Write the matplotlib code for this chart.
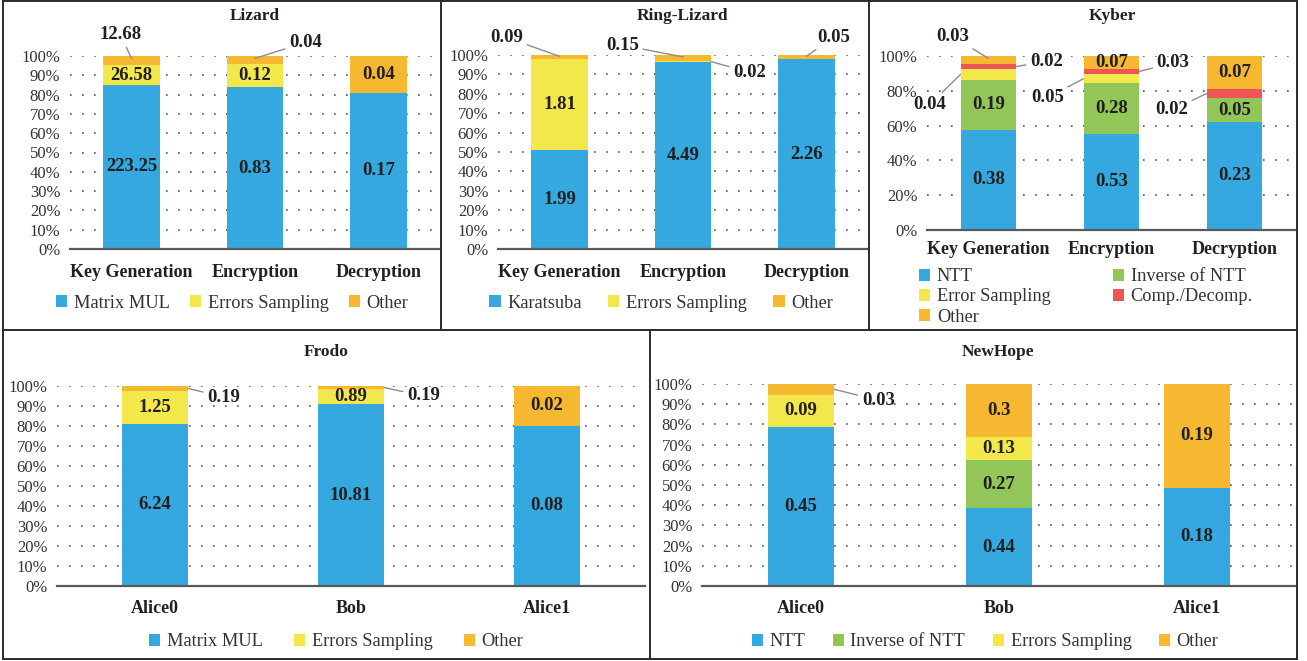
import numpy as np
import matplotlib.pyplot as plt
from matplotlib.patches import Patch
from matplotlib.lines import Line2D
from matplotlib.ticker import PercentFormatter

plt.rcParams["font.family"] = ["Liberation Serif", "DejaVu Serif"]

W, H = 1307, 661

# ---- data -------------------------------------------------------------
ops = ["Key Generation", "Encryption", "Decryption"]
roles = ["Alice0", "Bob", "Alice1"]

lizard_matmul = [223.25, 0.83, 0.17]
lizard_errors = [26.58, 0.12, 0.0]
lizard_other = [12.68, 0.04, 0.04]

ring_karatsuba = [1.99, 4.49, 2.26]
ring_errors = [1.81, 0.02, 0.0]
ring_other = [0.09, 0.15, 0.05]

kyber_ntt = [0.38, 0.53, 0.23]
kyber_invntt = [0.19, 0.28, 0.05]
kyber_errors = [0.04, 0.05, 0.0]
kyber_comp = [0.02, 0.03, 0.02]
kyber_other = [0.03, 0.07, 0.07]

frodo_matmul = [6.24, 10.81, 0.08]
frodo_errors = [1.25, 0.89, 0.0]
frodo_other = [0.19, 0.19, 0.02]

newhope_ntt = [0.45, 0.44, 0.18]
newhope_invntt = [0.0, 0.27, 0.0]
newhope_errors = [0.09, 0.13, 0.0]
newhope_other = [0.03, 0.3, 0.19]

BLUE, YELLOW, ORANGE = "#34A8DF", "#F2E84B", "#F5B830"
GREEN, RED = "#92C659", "#EE5656"
TXT = "#231F20"


def px_axes(fig, x0, x1, ytop, ybot):
    return fig.add_axes([x0 / W, 1 - ybot / H, (x1 - x0) / W, (ybot - ytop) / H])


def stacked(ax, cats, series, width, callouts, step, cat_pad):
    vals = np.array([s[0] for s in series], dtype=float)
    frac = vals / vals.sum(axis=0)
    x = np.arange(len(cats))
    bottom = np.zeros(len(cats))
    for i, (v, c, name) in enumerate(series):
        ax.bar(x, frac[i], width, bottom=bottom, color=c, label=name, zorder=2)
        for j in range(len(cats)):
            if v[j] <= 0:
                continue
            txt = f"{v[j]:g}"
            key = (i, j)
            if key in callouts:
                side, tx, ty = callouts[key]
                ymid = bottom[j] + frac[i, j] / 2
                if side == "top":
                    xy = (x[j], bottom[j] + frac[i, j] * 0.7)
                elif side == "right":
                    xy = (x[j] + width / 2, ymid)
                else:
                    xy = (x[j] - width / 2, ymid)
                ax.annotate(txt, xy=xy, xytext=(tx, ty), ha="center", va="center",
                            fontsize=13.5, fontweight="bold", color=TXT,
                            annotation_clip=False,
                            arrowprops=dict(arrowstyle="-", color="#8C8C8C", lw=1,
                                            shrinkA=1, shrinkB=0))
            else:
                ax.text(x[j], bottom[j] + frac[i, j] / 2, txt, ha="center",
                        va="center", fontsize=13.5, fontweight="bold", color=TXT,
                        zorder=3)
        bottom += frac[i]

    ax.set_xlim(-0.5, len(cats) - 0.5)
    ax.set_ylim(0, 1)
    ax.set_xticks(x)
    ax.set_xticklabels(cats, fontsize=13, fontweight="bold", color=TXT)
    ax.set_yticks(np.arange(0, 1.0001, step))
    ax.yaxis.set_major_formatter(PercentFormatter(1.0, decimals=0))
    ax.tick_params(axis="y", length=0, pad=7, labelsize=12, labelcolor="#333333")
    ax.tick_params(axis="x", length=0, pad=cat_pad)
    ax.grid(axis="y", color="#555555", linestyle=(0, (1, 6.2)), lw=1.2)
    ax.set_axisbelow(True)
    for s in ("left", "right", "top"):
        ax.spines[s].set_visible(False)
    ax.spines["bottom"].set_color("#595959")
    ax.spines["bottom"].set_linewidth(1.6)
    ax.spines["bottom"].set_zorder(4)


def legend(fig, items, cx, cy, ncol, loc="center", colsp=1.2):
    handles = [Patch(facecolor=c, edgecolor="none", label=n) for n, c in items]
    fig.legend(handles=handles, loc=loc, bbox_to_anchor=(cx / W, 1 - cy / H),
               ncol=ncol, frameon=False, fontsize=13.2, handlelength=0.62,
               handleheight=0.62, handletextpad=0.35, columnspacing=colsp,
               labelspacing=0.18, borderaxespad=0, borderpad=0,
               labelcolor="#333333")


def title(fig, text, cx, cy):
    fig.text(cx / W, 1 - cy / H, text, ha="center", va="center",
             fontsize=12.5, fontweight="bold", color=TXT)


fig = plt.figure(figsize=(W / 100, H / 100), dpi=100)

# Lizard
ax = px_axes(fig, 70, 440, 56, 249)
stacked(ax, ops,
        [(lizard_matmul, BLUE, "Matrix MUL"), (lizard_errors, YELLOW, "Errors Sampling"),
         (lizard_other, ORANGE, "Other")],
        0.46,
        {(2, 0): ("top", -0.09, 1.11), (2, 1): ("top", 1.41, 1.07)},
        0.1, 11)
title(fig, "Lizard", 255, 16)
legend(fig, [("Matrix MUL", BLUE), ("Errors Sampling", YELLOW), ("Other", ORANGE)],
       232, 303, 3, colsp=1.1)

# Ring-Lizard
ax = px_axes(fig, 498, 868, 55, 249)
stacked(ax, ops,
        [(ring_karatsuba, BLUE, "Karatsuba"), (ring_errors, YELLOW, "Errors Sampling"),
         (ring_other, ORANGE, "Other")],
        0.46,
        {(2, 0): ("top", -0.43, 1.09), (2, 1): ("top", 0.51, 1.05),
         (1, 1): ("right", 1.54, 0.91), (2, 2): ("top", 2.22, 1.09)},
        0.1, 11)
title(fig, "Ring-Lizard", 683, 16)
legend(fig, [("Karatsuba", BLUE), ("Errors Sampling", YELLOW), ("Other", ORANGE)],
       661, 303, 3, colsp=1.45)

# Kyber
ax = px_axes(fig, 927, 1296, 56, 230)
stacked(ax, ops,
        [(kyber_ntt, BLUE, "NTT"), (kyber_invntt, GREEN, "Inverse of NTT"),
         (kyber_errors, YELLOW, "Error Sampling"), (kyber_comp, RED, "Comp./Decomp."),
         (kyber_other, ORANGE, "Other")],
        0.455,
        {(4, 0): ("top", -0.29, 1.11), (3, 0): ("right", 0.47, 0.97),
         (2, 0): ("left", -0.48, 0.72), (2, 1): ("left", 0.48, 0.76),
         (3, 1): ("right", 1.5, 0.96), (3, 2): ("left", 1.49, 0.69)},
        0.2, 8)
title(fig, "Kyber", 1112, 16)
legend(fig, [("NTT", BLUE), ("Error Sampling", YELLOW), ("Other", ORANGE),
             ("Inverse of NTT", GREEN), ("Comp./Decomp.", RED)],
       919, 297, 2, loc="center left", colsp=3.4)

# Frodo
ax = px_axes(fig, 57, 645, 386, 586)
stacked(ax, roles,
        [(frodo_matmul, BLUE, "Matrix MUL"), (frodo_errors, YELLOW, "Errors Sampling"),
         (frodo_other, ORANGE, "Other")],
        0.34,
        {(2, 0): ("right", 0.35, 0.945), (2, 1): ("right", 1.37, 0.95)},
        0.1, 10)
title(fig, "Frodo", 326, 352)
legend(fig, [("Matrix MUL", BLUE), ("Errors Sampling", YELLOW), ("Other", ORANGE)],
       336, 642, 3, colsp=1.7)

# NewHope
ax = px_axes(fig, 702, 1296, 384, 586)
stacked(ax, roles,
        [(newhope_ntt, BLUE, "NTT"), (newhope_invntt, GREEN, "Inverse of NTT"),
         (newhope_errors, YELLOW, "Errors Sampling"), (newhope_other, ORANGE, "Other")],
        0.335,
        {(3, 0): ("right", 0.39, 0.92)},
        0.1, 10)
title(fig, "NewHope", 998, 352)
legend(fig, [("NTT", BLUE), ("Inverse of NTT", GREEN), ("Errors Sampling", YELLOW),
             ("Other", ORANGE)],
       985, 642, 4, colsp=1.5)

# panel borders
segs = [((3, 1), (1297, 1)), ((3, 659), (1297, 659)), ((3, 1), (3, 659)),
        ((1297, 1), (1297, 659)), ((3, 330), (1297, 330)),
        ((441, 1), (441, 330)), ((869, 1), (869, 330)), ((650, 330), (650, 659))]
for (xa, ya), (xb, yb) in segs:
    fig.add_artist(Line2D([xa / W, xb / W], [1 - ya / H, 1 - yb / H],
                          color="#2B2B2B", lw=1.4))

fig.savefig("out.png", dpi=100)
